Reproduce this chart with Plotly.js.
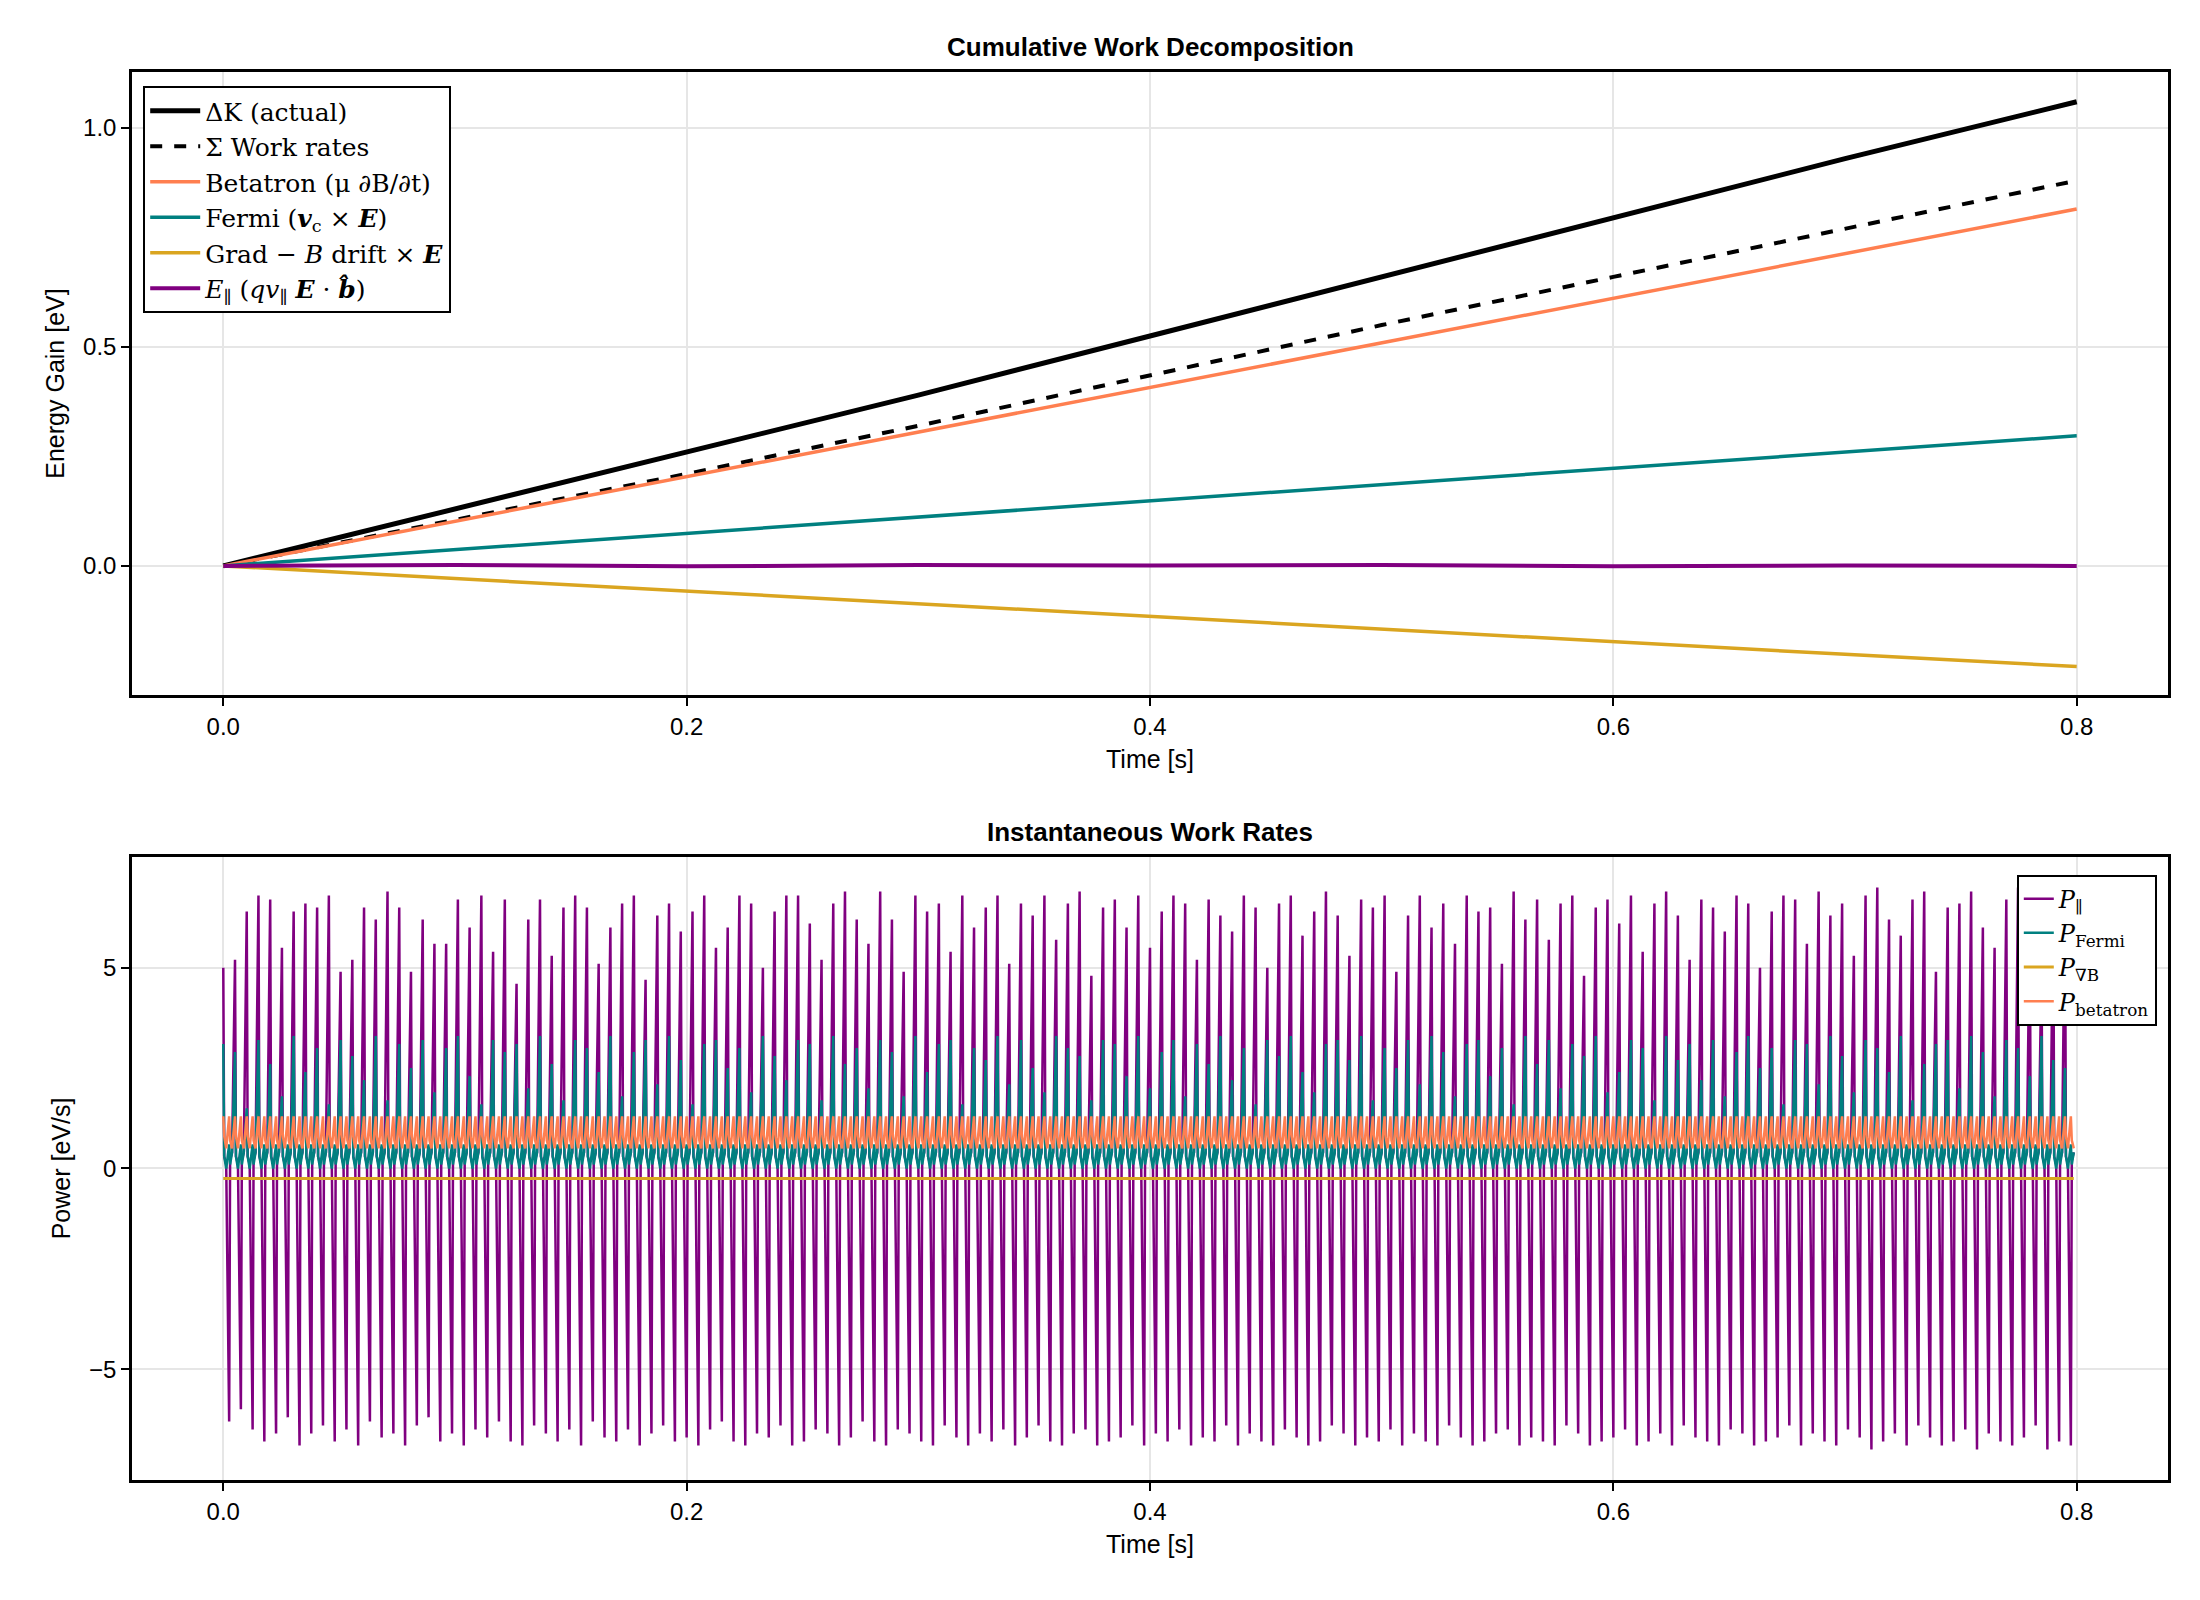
<!DOCTYPE html>
<html>
<head>
<meta charset="utf-8">
<script src="https://cdn.plot.ly/plotly-3.0.1.min.js"></script>
<style>body{margin:0;background:#fff}#plot{width:2200px;height:1600px}</style>
</head>
<body>
<div id="plot"></div>
<script>
// Cumulative energy gain, sampled every 0.1 s
let tCum = [0, 0.1, 0.2, 0.3, 0.4, 0.5, 0.6, 0.7, 0.8]
let deltaK = [0, 0.13, 0.26, 0.39, 0.525, 0.66, 0.795, 0.93, 1.06]
let sumWork = [0, 0.105, 0.21, 0.32, 0.435, 0.55, 0.66, 0.77, 0.88]
let betatron = [0, 0.102, 0.204, 0.306, 0.408, 0.51, 0.612, 0.714, 0.815]
let fermi = [0, 0.037, 0.074, 0.111, 0.148, 0.185, 0.222, 0.259, 0.297]
let gradB = [0, -0.029, -0.058, -0.087, -0.115, -0.144, -0.173, -0.202, -0.23]
let ePar = [0, 0.002, -0.001, 0.002, 0.001, 0.002, -0.001, 0.001, 0]

// Instantaneous rates: one peak pair per gyro cycle
let parUp = [5.0,5.2,6.4,6.8,6.7,5.5,6.4,6.6,6.5,6.8,4.9,5.2,6.5,6.2,6.9,6.5,4.9,6.2,5.6,5.6,6.7,6.0,6.8,5.4,6.7,4.6,6.2,6.7,5.3,6.5,
6.8,6.5,5.1,6.0,6.6,6.8,4.7,6.3,6.6,5.9,6.4,6.8,5.5,6.0,6.8,6.6,5.0,6.4,6.8,6.8,6.1,5.2,6.6,6.9,6.2,5.6,6.9,6.2,4.9,6.8,
6.4,6.6,5.4,6.8,6.0,6.5,6.8,5.1,6.6,6.3,6.8,5.7,6.6,6.9,4.8,6.5,6.7,6.0,6.8,5.5,6.4,6.8,6.6,5.2,6.7,6.3,5.9,6.8,6.5,5.0,
6.6,6.8,5.8,6.4,6.9,6.3,5.3,6.7,6.5,6.8,4.9,6.3,6.8,6.0,6.6,5.6,6.8,6.4,6.5,5.1,6.9,6.2,6.7,5.7,6.6,6.8,4.8,6.5,6.7,6.1,
6.8,5.4,6.6,6.9,6.3,5.2,6.7,6.5,5.9,6.8,6.6,5.0,6.4,6.8,6.7,5.6,6.9,6.3,6.6,5.3,6.8,7.0,6.2,5.8,6.7,6.9,4.9,6.5,6.6,6.9,
6.0,5.5,6.7,7.0,6.4,5.1,6.8,6.9]
let parDown = [-6.3,-6.0,-6.5,-6.8,-6.6,-6.2,-6.9,-6.6,-6.4,-6.8,-6.5,-6.9,-6.3,-6.7,-6.6,-6.9,-6.4,-6.2,-6.8,-6.6,-6.9,-6.5,-6.7,-6.3,-6.8,-6.9,-6.4,-6.6,-6.8,-6.5,
-6.9,-6.3,-6.7,-6.8,-6.5,-6.9,-6.6,-6.4,-6.8,-6.7,-6.9,-6.5,-6.3,-6.8,-6.9,-6.6,-6.7,-6.4,-6.9,-6.8,-6.5,-6.6,-6.9,-6.7,-6.3,-6.8,-6.9,-6.5,-6.6,-6.8,
-6.9,-6.4,-6.7,-6.9,-6.6,-6.8,-6.5,-6.9,-6.7,-6.4,-6.8,-6.9,-6.6,-6.5,-6.9,-6.8,-6.7,-6.4,-6.9,-6.6,-6.8,-6.5,-6.9,-6.7,-6.8,-6.4,-6.9,-6.6,-6.8,-6.9,
-6.5,-6.7,-6.9,-6.8,-6.4,-6.6,-6.9,-6.7,-6.8,-6.5,-6.9,-6.6,-6.8,-6.9,-6.4,-6.7,-6.9,-6.8,-6.6,-6.5,-6.9,-6.7,-6.8,-6.9,-6.4,-6.6,-6.9,-6.8,-6.7,-6.5,
-6.9,-6.8,-6.6,-6.9,-6.4,-6.7,-6.8,-6.9,-6.5,-6.6,-6.9,-6.8,-6.7,-6.4,-6.9,-6.6,-6.8,-6.9,-6.5,-6.7,-7.0,-6.8,-6.6,-6.9,-6.4,-6.7,-6.9,-6.8,-6.5,-7.0,
-6.6,-6.8,-6.9,-6.7,-6.4,-7.0,-6.8,-6.9]
let fermiUp = [3.1,2.9,1.5,3.2,2.6,1.8,3.3,2.4,3.0,1.6,3.2,2.8,2.2,3.3,1.7,3.1,2.5,3.2,1.9,3.0,3.3,2.3,1.6,3.2,2.9,3.1,2.0,3.3,2.6,1.7,
3.2,3.0,2.4,3.3,1.8,2.9,3.2,2.1,3.3,2.7,1.6,3.1,3.2,2.5,3.0,1.9,3.3,2.8,2.2,3.2,3.1,1.7,3.3,2.6,3.0,2.0,3.2,2.9,1.8,3.3,
2.4,3.1,3.2,1.6,3.0,2.7,3.3,2.1,3.2,2.5,1.9,3.3,3.0,2.8,1.7,3.2,3.1,2.3,3.3,2.0,2.9,3.2,1.8,3.1,2.6,3.3,2.2,3.0,1.6,3.2,
2.8,3.3,2.4,1.9,3.1,3.2,2.7,3.3,1.7,3.0,2.5,3.2,2.1,3.3,2.9,1.8,3.1,3.2,2.3,3.0,1.6,3.3,2.6,3.2,2.0,3.1,2.8,3.3,1.9,2.4,
3.2,3.0,1.7,3.3,2.7,3.1,2.2,3.2,1.8,2.9,3.3,2.5,3.0,1.6,3.2,3.1,2.1,3.3,2.8,1.9,3.2,3.0,2.4,3.3,1.7,2.6,3.1,3.2,2.0,3.3,
2.9,1.8,3.2,3.0,2.3,3.3,2.7,2.5]
let betatronHi = 1.3
let betatronLo = 0.5
let gradRate = -0.25

let nCycles = Math.min(parUp.length, parDown.length, fermiUp.length)
let period = 0.8 / nCycles
let tRate = [], pPar = [], pFermi = [], pBeta = [], pGrad = []
for (let k = 0; k < nCycles; k++) {
  let t0 = k * period
  let steps = [0, 0.08, 0.25, 0.5, 0.58, 0.75]
  let parVals = [parUp[k], 0.3, 0.1, parDown[k], 0.2, 0.4]
  let ferVals = [fermiUp[k], 0.3, 0.0, 0.6, 0.1, 0.4]
  let betVals = [betatronHi, 0.8, betatronLo, betatronHi, 0.7, betatronLo]
  for (let j = 0; j < steps.length; j++) {
    tRate.push(t0 + steps[j] * period)
    pPar.push(parVals[j])
    pFermi.push(ferVals[j])
    pBeta.push(betVals[j])
    pGrad.push(gradRate)
  }
}

let serif = {family: "DejaVu Serif, Liberation Serif, serif", size: 25, color: "#000"}

let data = [
  {x: tCum, y: deltaK, name: "ΔK (actual)", mode: "lines", line: {color: "black", width: 5}, xaxis: "x", yaxis: "y", legend: "legend"},
  {x: tCum, y: sumWork, name: "Σ Work rates", mode: "lines", line: {color: "black", width: 4, dash: "dash"}, xaxis: "x", yaxis: "y", legend: "legend"},
  {x: tCum, y: betatron, name: "Betatron (μ ∂B/∂t)", mode: "lines", line: {color: "#ff7f50", width: 3.5}, xaxis: "x", yaxis: "y", legend: "legend"},
  {x: tCum, y: fermi, name: "Fermi (<b><i>v</i></b><sub>c</sub> × <b><i>E</i></b>)", mode: "lines", line: {color: "#008080", width: 3.5}, xaxis: "x", yaxis: "y", legend: "legend"},
  {x: tCum, y: gradB, name: "Grad − <i>B</i> drift × <b><i>E</i></b>", mode: "lines", line: {color: "#daa520", width: 3.5}, xaxis: "x", yaxis: "y", legend: "legend"},
  {x: tCum, y: ePar, name: "<i>E</i><sub>∥</sub> (<i>qv</i><sub>∥</sub> <b><i>E</i></b> · <b><i>b̂</i></b>)", mode: "lines", line: {color: "#800080", width: 4}, xaxis: "x", yaxis: "y", legend: "legend"},
  {x: tRate, y: pPar, name: "<i>P</i><sub>∥</sub>", mode: "lines", line: {color: "#800080", width: 2.5}, xaxis: "x2", yaxis: "y2", legend: "legend2"},
  {x: tRate, y: pFermi, name: "<i>P</i><sub>Fermi</sub>", mode: "lines", line: {color: "#008080", width: 2.5}, xaxis: "x2", yaxis: "y2", legend: "legend2"},
  {x: tRate, y: pGrad, name: "<i>P</i><sub>∇B</sub>", mode: "lines", line: {color: "#daa520", width: 3}, xaxis: "x2", yaxis: "y2", legend: "legend2"},
  {x: tRate, y: pBeta, name: "<i>P</i><sub>betatron</sub>", mode: "lines", line: {color: "#ff7f50", width: 2.5}, xaxis: "x2", yaxis: "y2", legend: "legend2"}
]

let axisBase = {
  showline: true, mirror: true, linecolor: "black", linewidth: 2.5,
  ticks: "outside", ticklen: 8, tickwidth: 2, tickcolor: "black",
  gridcolor: "#e6e6e6", gridwidth: 1.5, zeroline: false,
  tickfont: {family: "Liberation Sans, Arial, sans-serif", size: 24, color: "#000"}
}
let axTitle = function (txt) {
  return {text: txt, font: {family: "Liberation Sans, Arial, sans-serif", size: 25, color: "#000"}, standoff: 12}
}

let layout = {
  width: 2200, height: 1600,
  margin: {l: 132, r: 32, t: 72, b: 120},
  paper_bgcolor: "white", plot_bgcolor: "white",
  showlegend: true,
  xaxis: Object.assign({}, axisBase, {domain: [0, 1], range: [-0.0394, 0.8394], tickvals: [0, 0.2, 0.4, 0.6, 0.8], ticktext: ["0.0", "0.2", "0.4", "0.6", "0.8"], anchor: "y", title: axTitle("Time [s]")}),
  yaxis: Object.assign({}, axisBase, {domain: [0.5575, 1], range: [-0.295, 1.128], tickvals: [0, 0.5, 1], ticktext: ["0.0", "0.5", "1.0"], anchor: "x", title: axTitle("Energy Gain [eV]")}),
  xaxis2: Object.assign({}, axisBase, {domain: [0, 1], range: [-0.0394, 0.8394], tickvals: [0, 0.2, 0.4, 0.6, 0.8], ticktext: ["0.0", "0.2", "0.4", "0.6", "0.8"], anchor: "y2", title: axTitle("Time [s]")}),
  yaxis2: Object.assign({}, axisBase, {domain: [0, 0.4425], range: [-7.76, 7.76], tickvals: [-5, 0, 5], ticktext: ["−5", "0", "5"], anchor: "x2", title: axTitle("Power [eV/s]")}),
  legend: {x: 0.0055, y: 0.99, xanchor: "left", yanchor: "top", bgcolor: "white", bordercolor: "black", borderwidth: 2, font: serif, itemwidth: 50},
  legend2: {x: 0.9945, y: 0.43, xanchor: "right", yanchor: "top", bgcolor: "white", bordercolor: "black", borderwidth: 2, font: {family: serif.family, size: 24, color: "#000"}},
  annotations: [
    {text: "<b>Cumulative Work Decomposition</b>", xref: "paper", yref: "paper", x: 0.5, y: 1, yanchor: "bottom", yshift: 8, showarrow: false, font: {family: "Liberation Sans, Arial, sans-serif", size: 26, color: "#000"}},
    {text: "<b>Instantaneous Work Rates</b>", xref: "paper", yref: "paper", x: 0.5, y: 0.4425, yanchor: "bottom", yshift: 8, showarrow: false, font: {family: "Liberation Sans, Arial, sans-serif", size: 26, color: "#000"}}
  ]
}

Plotly.newPlot("plot", data, layout, {displayModeBar: false})
</script>
</body>
</html>
